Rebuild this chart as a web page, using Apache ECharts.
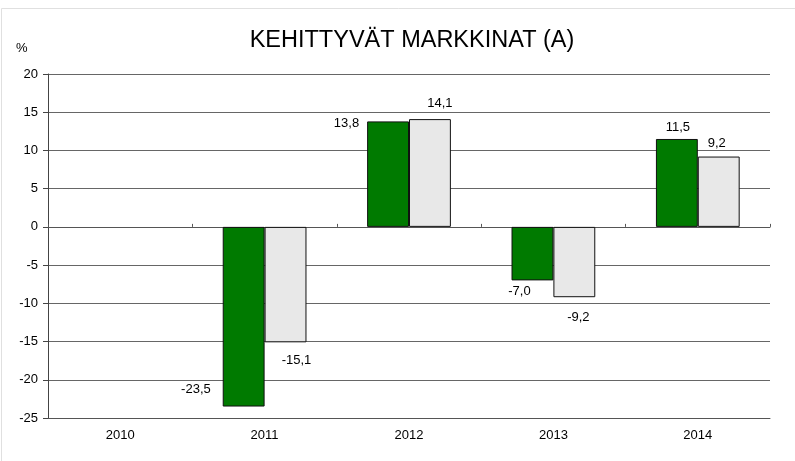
<!DOCTYPE html>
<html>
<head>
<meta charset="utf-8">
<script src="https://cdn.jsdelivr.net/npm/echarts@6/dist/echarts.min.js"></script>
<style>
html,body{margin:0;padding:0;background:#fff;}
#chart{width:795px;height:461px;}
</style>
</head>
<body>
<div id="chart"></div>
<script>
var titleText = 'KEHITTYVÄT MARKKINAT (A)';
var unitText = '%';
var categories = ['2010', '2011', '2012', '2013', '2014'];
var seriesGreen = [null, -23.5, 13.8, -7.0, 11.5];
var seriesGray = [null, -15.1, 14.1, -9.2, 9.2];
var yTicks = [-25, -20, -15, -10, -5, 0, 5, 10, 15, 20];

// label placement per bar (style only)
var greenLabelCfg = [
  null,
  {position: ['0%', '100%'], align: 'right', verticalAlign: 'middle', offset: [-12, -17]},
  {position: [0, 0], align: 'right', verticalAlign: 'middle', offset: [-8, 2]},
  {position: ['50%', '100%'], align: 'center', verticalAlign: 'middle', offset: [-13, 11]},
  {position: ['50%', 0], align: 'center', verticalAlign: 'middle', offset: [1, -12]}
];
var grayLabelCfg = [
  null,
  {position: ['50%', '100%'], align: 'center', verticalAlign: 'middle', offset: [11, 18]},
  {position: ['50%', 0], align: 'center', verticalAlign: 'middle', offset: [10, -16]},
  {position: ['50%', '100%'], align: 'center', verticalAlign: 'middle', offset: [4, 20]},
  {position: ['50%', 0], align: 'center', verticalAlign: 'middle', offset: [-2, -13]}
];

function fmt(v){ return v.toFixed(1).replace('.', ','); }

var font = 'Liberation Sans, Arial, sans-serif';

function buildData(values, cfgs){
  return values.map(function(v, i){
    if (v === null) return null;
    var c = cfgs[i];
    return {
      value: v,
      label: {
        show: true,
        position: c.position,
        align: c.align,
        verticalAlign: c.verticalAlign,
        offset: c.offset,
        formatter: function(p){ return fmt(p.value); },
        color: '#000',
        fontSize: 13,
        fontFamily: font
      }
    };
  });
}

var chart = echarts.init(document.getElementById('chart'), null, {renderer: 'canvas'});
chart.setOption({
  animation: false,
  backgroundColor: '#fff',
  title: {
    text: titleText,
    left: 407,
    textAlign: 'center',
    top: 24,
    textStyle: {fontSize: 23.5, fontWeight: 'normal', color: '#000', fontFamily: font}
  },
  graphic: [
    {type: 'rect', shape: {x: 1.5, y: 8.5, width: 800, height: 460}, style: {fill: 'none', stroke: '#e0e0e0', lineWidth: 1}, z: -1},
    {type: 'text', left: 16, top: 42, style: {text: unitText, fill: '#000', font: '13px Liberation Sans, Arial, sans-serif'}}
  ],
  grid: {left: 48, right: 25, top: 74, bottom: 43},
  xAxis: [
    {
      type: 'category',
      data: categories,
      position: 'bottom',
      axisLine: {onZero: false, show: true, lineStyle: {color: '#555', width: 1}},
      axisTick: {show: false},
      axisLabel: {color: '#000', fontSize: 13, margin: 11, fontFamily: font},
      splitLine: {show: false}
    },
    {
      type: 'category',
      data: categories,
      position: 'bottom',
      axisLine: {onZero: true, show: true, lineStyle: {color: '#555', width: 1}},
      axisTick: {show: true, inside: true, length: 3, lineStyle: {color: '#555'}},
      axisLabel: {show: false},
      splitLine: {show: false}
    }
  ],
  yAxis: {
    type: 'value',
    min: -25,
    max: 20,
    interval: 5,
    axisLine: {show: true, lineStyle: {color: '#444', width: 1}},
    axisTick: {show: true, length: 5, lineStyle: {color: '#444'}},
    axisLabel: {color: '#000', fontSize: 13, margin: 10, fontFamily: font,
      formatter: function(v){ return yTicks.indexOf(v) >= 0 ? String(v) : ''; }},
    splitLine: {show: true, lineStyle: {color: '#666', width: 1}}
  },
  series: [
    {
      type: 'bar',
      xAxisIndex: 0,
      data: buildData(seriesGreen, greenLabelCfg),
      barGap: '0%',
      barCategoryGap: '42%',
      itemStyle: {color: '#007a00', borderColor: '#111', borderWidth: 1},
      z: 3
    },
    {
      type: 'bar',
      xAxisIndex: 0,
      data: buildData(seriesGray, grayLabelCfg),
      barGap: '0%',
      barCategoryGap: '42%',
      itemStyle: {color: '#e8e8e8', borderColor: '#111', borderWidth: 1},
      z: 3
    }
  ]
});
</script>
</body>
</html>
